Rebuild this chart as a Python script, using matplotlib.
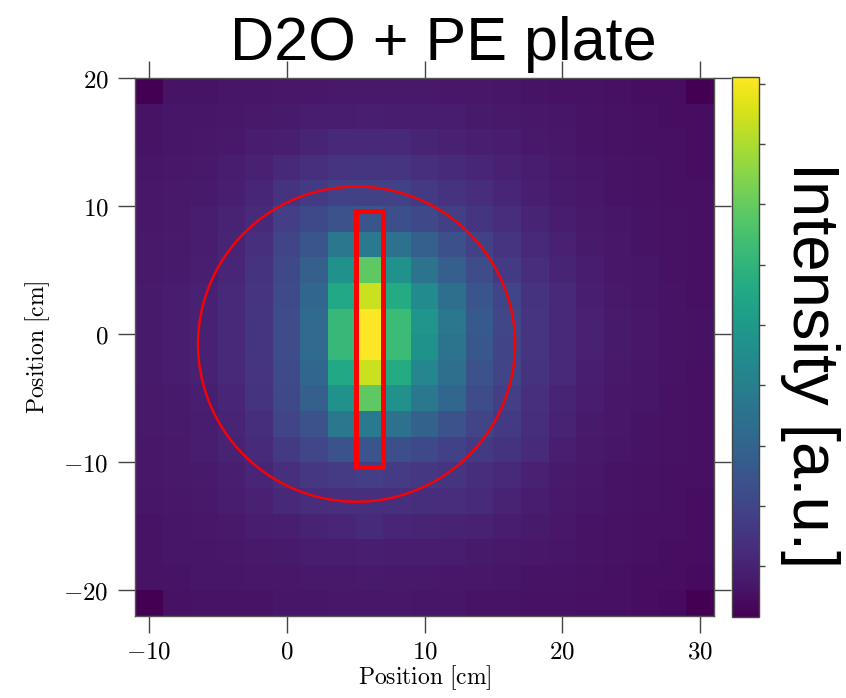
import numpy as np
import matplotlib
matplotlib.use("Agg")
import matplotlib.pyplot as plt
from matplotlib.patches import Rectangle, Ellipse

plt.rcParams['mathtext.fontset'] = 'cm'

# Detector cell centres [cm]
x_pos = [-10, -8, -6, -4, -2, 0, 2, 4, 6, 8, 10, 12, 14, 16, 18, 20, 22, 24, 26, 28, 30]
y_pos = [19, 17, 15, 13, 11, 9, 7, 5, 3, 1, -1, -3, -5, -7, -9, -11, -13, -15, -17, -19, -21]

# Normalised intensity per cell, one row per y position (top to bottom)
intensity = [
    [0.00, .05, .05, .055, .055, .06, .06, .065, .065, .065, .065, .06, .06, .055, .05, .045, .045, .04, .035, .035, 0.00],
    [.05, .055, .055, .06, .065, .07, .075, .08, .085, .08, .08, .075, .07, .065, .06, .055, .05, .045, .04, .035, .035],
    [.05, .055, .06, .065, .075, .085, .10, .11, .115, .11, .10, .09, .085, .075, .065, .06, .05, .045, .04, .04, .035],
    [.055, .06, .065, .075, .09, .115, .135, .15, .155, .15, .135, .12, .105, .09, .075, .065, .055, .05, .045, .04, .035],
    [.06, .065, .07, .085, .105, .145, .17, .19, .195, .19, .165, .145, .125, .105, .085, .07, .06, .05, .045, .04, .04],
    [.06, .065, .075, .095, .12, .18, .22, .25, .26, .24, .215, .185, .155, .125, .10, .08, .065, .055, .05, .045, .04],
    [.065, .07, .08, .10, .135, .20, .26, .40, .41, .37, .30, .245, .195, .15, .115, .09, .07, .06, .05, .045, .04],
    [.065, .07, .085, .105, .145, .215, .30, .50, .75, .50, .38, .30, .23, .17, .13, .10, .075, .06, .055, .045, .04],
    [.07, .075, .09, .11, .15, .225, .33, .60, .92, .61, .48, .36, .26, .20, .145, .11, .085, .065, .055, .05, .04],
    [.07, .075, .09, .115, .155, .23, .34, .67, 1.00, .68, .52, .40, .28, .21, .15, .115, .09, .07, .06, .05, .045],
    [.07, .075, .09, .115, .155, .23, .34, .67, 1.00, .68, .51, .38, .27, .20, .15, .115, .09, .07, .06, .05, .045],
    [.07, .075, .09, .11, .15, .225, .33, .60, .92, .61, .46, .36, .25, .20, .145, .11, .085, .065, .055, .05, .04],
    [.065, .07, .085, .105, .145, .215, .30, .50, .75, .50, .40, .33, .23, .18, .135, .10, .075, .06, .055, .045, .04],
    [.065, .07, .08, .10, .13, .20, .25, .40, .41, .37, .31, .25, .20, .165, .13, .095, .07, .06, .05, .045, .04],
    [.06, .065, .075, .095, .12, .17, .21, .25, .26, .24, .22, .19, .17, .145, .12, .085, .065, .055, .05, .045, .04],
    [.06, .065, .07, .085, .105, .14, .16, .175, .18, .175, .16, .15, .13, .11, .09, .07, .06, .05, .045, .04, .04],
    [.055, .06, .065, .075, .09, .11, .125, .135, .14, .135, .13, .125, .12, .095, .08, .065, .055, .05, .045, .04, .035],
    [.05, .055, .06, .065, .075, .085, .095, .105, .12, .105, .10, .095, .09, .08, .07, .06, .05, .045, .04, .04, .035],
    [.05, .055, .055, .06, .065, .07, .075, .08, .085, .08, .08, .075, .07, .065, .06, .055, .05, .045, .04, .035, .035],
    [.05, .05, .055, .055, .06, .06, .065, .065, .07, .065, .065, .06, .06, .055, .05, .05, .045, .04, .035, .035, .03],
    [0.00, .045, .05, .05, .05, .055, .055, .06, .06, .06, .055, .055, .05, .05, .045, .045, .04, .04, .035, .03, 0.00],
]

x_ticks = [-10, 0, 10, 20, 30]
y_ticks = [-20, -10, 0, 10, 20]

# Slit region and beam area overlays [cm]
slit_x, slit_y, slit_w, slit_h = 5.0, -10.4, 2.0, 20.0
beam_cx, beam_cy, beam_w, beam_h = 5.07, -0.78, 23.0, 24.6

fig = plt.figure(figsize=(8.46, 6.98), dpi=100)
ax = fig.add_axes([0.1596, 0.1175, 0.6844, 0.7708])
cax = fig.add_axes([0.8652, 0.116, 0.0319, 0.7736])

mesh = ax.pcolormesh(x_pos, y_pos, np.array(intensity), cmap='viridis',
                     shading='nearest', vmin=0, vmax=1)

ax.add_patch(Rectangle((slit_x, slit_y), slit_w, slit_h, fill=False,
                       edgecolor='#ff0000', linewidth=3.6, zorder=3))
ax.add_patch(Ellipse((beam_cx, beam_cy), beam_w, beam_h, fill=False,
                     edgecolor='#ff0000', linewidth=1.7, zorder=3))

ax.set_xlim(-11, 31)
ax.set_ylim(-22, 20)
ax.set_xticks(x_ticks)
ax.set_yticks(y_ticks)
ax.set_xticklabels([r'$%d$' % t for t in x_ticks])
ax.set_yticklabels([r'$%d$' % t for t in y_ticks])
ax.tick_params(direction='out', length=12, width=1, color='#444444',
               top=True, right=True, labelsize=18)
ax.tick_params(axis='x', pad=5)
ax.tick_params(axis='y', pad=7)
for sp in ax.spines.values():
    sp.set_color('#555555')
    sp.set_linewidth(1)

ax.set_xlabel(r'$\mathrm{Position\ [cm]}$', fontsize=17, labelpad=0)
ax.set_ylabel(r'$\mathrm{Position\ [cm]}$', fontsize=17, labelpad=8)

cbar = fig.colorbar(mesh, cax=cax)
cbar.set_ticks(np.linspace(0.094, 0.988, 9))
cbar.ax.tick_params(length=4, width=1, color='#444444', labelright=False)
cbar.outline.set_edgecolor('#444444')
cbar.outline.set_linewidth(1)

fig.text(810 / 846, 1 - 365 / 698, 'Intensity [a.u.]', rotation=270,
         ha='center', va='center', fontsize=47, family='Liberation Sans')
fig.text(443 / 846, 1 - 60 / 698, 'D2O + PE plate', ha='center',
         va='baseline', fontsize=44, family='Liberation Sans')

fig.savefig('out.png', dpi=100)
